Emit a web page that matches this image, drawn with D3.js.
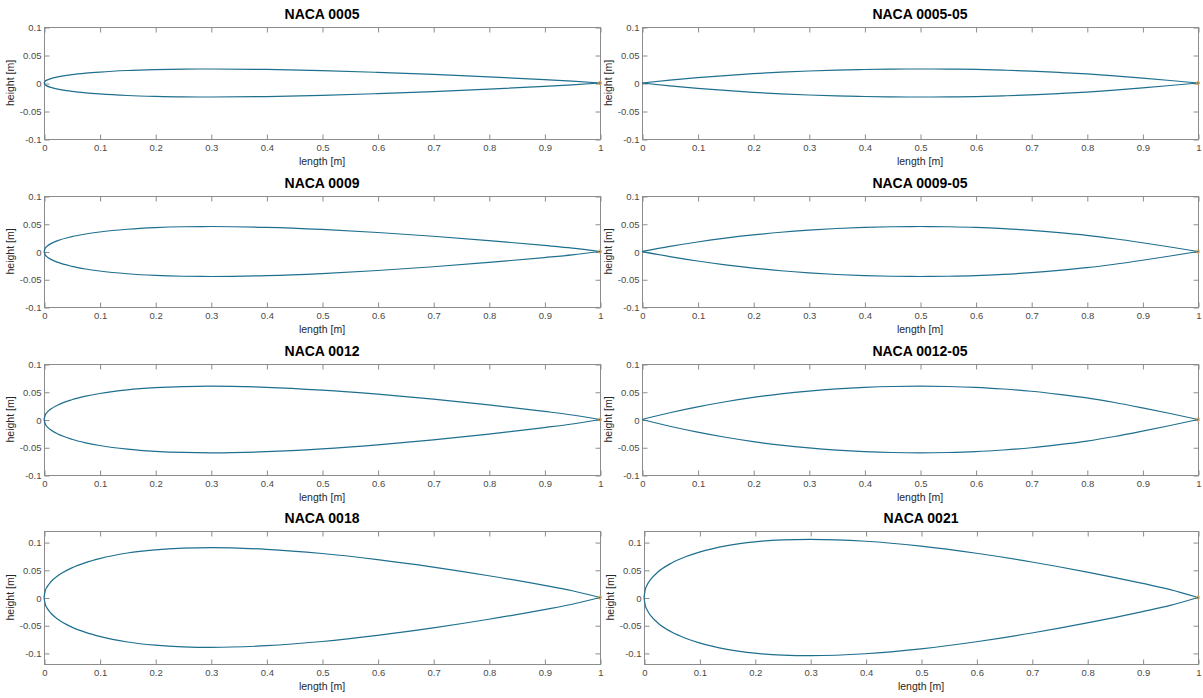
<!DOCTYPE html>
<html>
<head>
<meta charset="utf-8">
<script src="https://cdn.jsdelivr.net/npm/d3@7"></script>
<style>
  html, body { margin: 0; padding: 0; background: #ffffff; }
  svg { display: block; }
  text { font-family: "Liberation Sans", Arial, Helvetica, sans-serif; }
</style>
</head>
<body>
<svg id="chart" width="1203" height="698"></svg>
<script>
// ---------------- DATA ----------------
// chordwise stations for the standard 4-digit sections
const xStandard = [0, 0.0025, 0.005, 0.0125, 0.025, 0.05, 0.075, 0.1, 0.15, 0.2, 0.25, 0.3, 0.4, 0.5, 0.6, 0.7, 0.8, 0.9, 0.95, 1];
// half-thickness (upper surface height) of each section
const y0005 = [0, 0.0036, 0.0051, 0.0079, 0.0109, 0.0148, 0.0175, 0.0195, 0.0223, 0.0239, 0.0248, 0.0250, 0.0242, 0.0221, 0.0190, 0.0153, 0.0109, 0.0060, 0.0034, 0];
const y0009 = [0, 0.0065, 0.0092, 0.0142, 0.0197, 0.0267, 0.0315, 0.0351, 0.0401, 0.0431, 0.0446, 0.0450, 0.0435, 0.0397, 0.0342, 0.0275, 0.0197, 0.0109, 0.0061, 0];
const y0012 = [0, 0.0087, 0.0122, 0.0189, 0.0262, 0.0356, 0.0420, 0.0468, 0.0535, 0.0574, 0.0594, 0.0600, 0.0580, 0.0529, 0.0456, 0.0366, 0.0262, 0.0145, 0.0081, 0];
const y0018 = [0, 0.0131, 0.0183, 0.0284, 0.0393, 0.0534, 0.0630, 0.0702, 0.0803, 0.0861, 0.0891, 0.0900, 0.0870, 0.0794, 0.0684, 0.0549, 0.0393, 0.0218, 0.0122, 0];
const y0021 = [0, 0.0152, 0.0214, 0.0331, 0.0459, 0.0623, 0.0735, 0.0819, 0.0936, 0.1005, 0.1040, 0.1050, 0.1015, 0.0926, 0.0798, 0.0641, 0.0459, 0.0254, 0.0142, 0];
// chordwise stations for the modified (-05) sections
const xModified = [0, 0.05, 0.1, 0.15, 0.2, 0.25, 0.3, 0.35, 0.4, 0.45, 0.5, 0.55, 0.6, 0.65, 0.7, 0.75, 0.8, 0.85, 0.9, 0.95, 1];
const y0005m = [0, 0.0051, 0.0095, 0.0133, 0.0166, 0.0193, 0.0214, 0.0230, 0.0241, 0.0248, 0.0250, 0.0248, 0.0242, 0.0229, 0.0212, 0.0189, 0.0162, 0.0128, 0.0088, 0.0045, 0];
const y0009m = [0, 0.0091, 0.0171, 0.0240, 0.0298, 0.0347, 0.0385, 0.0414, 0.0434, 0.0446, 0.0450, 0.0446, 0.0435, 0.0413, 0.0382, 0.0341, 0.0292, 0.0230, 0.0158, 0.0081, 0];
const y0012m = [0, 0.0122, 0.0228, 0.0320, 0.0398, 0.0462, 0.0513, 0.0552, 0.0579, 0.0595, 0.0600, 0.0595, 0.0580, 0.0550, 0.0509, 0.0454, 0.0389, 0.0306, 0.0210, 0.0108, 0];

const titles = ["NACA 0005", "NACA 0005-05", "NACA 0009", "NACA 0009-05", "NACA 0012", "NACA 0012-05", "NACA 0018", "NACA 0021"];
const xTicks = [0, 0.1, 0.2, 0.3, 0.4, 0.5, 0.6, 0.7, 0.8, 0.9, 1];
const yTicks = [-0.1, -0.05, 0, 0.05, 0.1];
const yLimNarrow = [-0.1, 0.1];
const yLimWide = [-0.12, 0.12];
const trailingPoint = [1, 0];
const xLabel = "length [m]";
const yLabel = "height [m]";

// ---------------- LAYOUT ----------------
const panels = [
  { title: titles[0], x: xStandard, y: y0005,  ylim: yLimNarrow, left: 44,  right: 600,  top: 27,  bottom: 139 },
  { title: titles[1], x: xModified, y: y0005m, ylim: yLimNarrow, left: 642, right: 1198, top: 27,  bottom: 139 },
  { title: titles[2], x: xStandard, y: y0009,  ylim: yLimNarrow, left: 44,  right: 600,  top: 196, bottom: 307 },
  { title: titles[3], x: xModified, y: y0009m, ylim: yLimNarrow, left: 642, right: 1198, top: 196, bottom: 307 },
  { title: titles[4], x: xStandard, y: y0012,  ylim: yLimNarrow, left: 44,  right: 600,  top: 364, bottom: 475 },
  { title: titles[5], x: xModified, y: y0012m, ylim: yLimNarrow, left: 642, right: 1198, top: 364, bottom: 475 },
  { title: titles[6], x: xStandard, y: y0018,  ylim: yLimWide,   left: 44,  right: 600,  top: 531, bottom: 664 },
  { title: titles[7], x: xStandard, y: y0021,  ylim: yLimWide,   left: 644, right: 1198, top: 531, bottom: 664 }
];

const lineColor = "#1f6f8e";
const axisColor = "#8c8c8c";
const tickTextColor = "#4a4a4a";
const tickLen = 5;

const svg = d3.select("#chart");

panels.forEach(p => {
  const xs = d3.scaleLinear().domain([0, 1]).range([p.left, p.right]);
  const ys = d3.scaleLinear().domain(p.ylim).range([p.bottom, p.top]);
  const g = svg.append("g");

  // box
  g.append("rect")
    .attr("x", p.left + 0.5).attr("y", p.top + 0.5)
    .attr("width", p.right - p.left).attr("height", p.bottom - p.top)
    .attr("fill", "none").attr("stroke", axisColor).attr("stroke-width", 1);

  // bottom axis (inward ticks)
  const xAxis = d3.axisBottom(xs).tickValues(xTicks).tickSizeInner(-tickLen).tickSizeOuter(0)
    .tickFormat(d => d3.format("")(+d.toFixed(2)));
  const gx = g.append("g").attr("transform", `translate(0.5,${p.bottom + 0.5})`).call(xAxis);
  gx.select(".domain").remove();
  gx.selectAll("line").attr("stroke", axisColor);
  gx.selectAll("text").attr("fill", tickTextColor).attr("font-size", "9.5px").attr("dy", "0.71em").attr("y", 5);

  // top ticks
  const xTop = d3.axisTop(xs).tickValues(xTicks).tickSizeInner(-tickLen).tickSizeOuter(0).tickFormat("");
  const gxt = g.append("g").attr("transform", `translate(0.5,${p.top + 0.5})`).call(xTop);
  gxt.select(".domain").remove();
  gxt.selectAll("line").attr("stroke", axisColor);

  // left axis
  const yAxis = d3.axisLeft(ys).tickValues(yTicks).tickSizeInner(-tickLen).tickSizeOuter(0)
    .tickFormat(d => String(+d.toFixed(2)));
  const gy = g.append("g").attr("transform", `translate(${p.left + 0.5},0.5)`).call(yAxis);
  gy.select(".domain").remove();
  gy.selectAll("line").attr("stroke", axisColor);
  gy.selectAll("text").attr("fill", tickTextColor).attr("font-size", "9.5px").attr("x", -3);

  // right ticks
  const yRight = d3.axisRight(ys).tickValues(yTicks).tickSizeInner(-tickLen).tickSizeOuter(0).tickFormat("");
  const gyr = g.append("g").attr("transform", `translate(${p.right + 0.5},0.5)`).call(yRight);
  gyr.select(".domain").remove();
  gyr.selectAll("line").attr("stroke", axisColor);

  // title
  g.append("text")
    .attr("x", (p.left + p.right) / 2).attr("y", p.top - 8)
    .attr("text-anchor", "middle").attr("font-weight", "bold").attr("font-size", "14px")
    .attr("fill", "#000").text(p.title);

  // x label
  g.append("text")
    .attr("x", (p.left + p.right) / 2).attr("y", p.bottom + 26)
    .attr("text-anchor", "middle").attr("font-size", "10.5px")
    .attr("fill", "#262626").text(xLabel);

  // y label
  const ylx = p.left - 30;
  const yly = (p.top + p.bottom) / 2;
  g.append("text")
    .attr("transform", `translate(${ylx},${yly}) rotate(-90)`)
    .attr("text-anchor", "middle").attr("font-size", "10.5px")
    .attr("fill", "#262626").text(yLabel);

  // airfoil surfaces
  const upper = p.x.map((xv, i) => [xv, p.y[i]]);
  const lower = p.x.map((xv, i) => [xv, -p.y[i]]);
  const line = d3.line().x(d => xs(d[0])).y(d => ys(d[1])).curve(d3.curveMonotoneX);
  [upper, lower].forEach(s => {
    g.append("path").attr("d", line(s))
      .attr("fill", "none").attr("stroke", lineColor).attr("stroke-width", 1.2);
  });

  // trailing-edge marker
  g.append("circle")
    .attr("cx", xs(trailingPoint[0])).attr("cy", ys(trailingPoint[1])).attr("r", 1.6)
    .attr("fill", "none").attr("stroke", "#d9a04a").attr("stroke-width", 0.9);
});
</script>
</body>
</html>
